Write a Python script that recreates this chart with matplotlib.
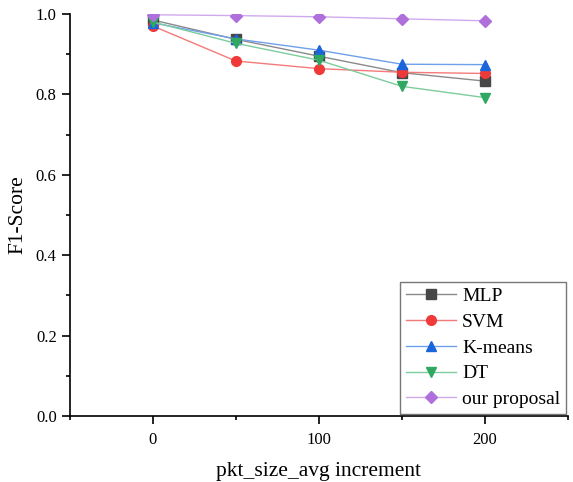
import matplotlib.pyplot as plt
from matplotlib.ticker import MultipleLocator

plt.rcParams['font.family'] = ['Liberation Serif', 'DejaVu Serif']

increments = [0, 50, 100, 150, 200]
mlp = [0.985, 0.937, 0.895, 0.854, 0.833]
svm = [0.970, 0.883, 0.864, 0.855, 0.852]
kmeans = [0.978, 0.938, 0.910, 0.875, 0.874]
dt = [0.980, 0.927, 0.885, 0.820, 0.792]
proposal = [0.998, 0.996, 0.993, 0.988, 0.983]

labels = ["MLP", "SVM", "K-means", "DT", "our proposal"]
series = [mlp, svm, kmeans, dt, proposal]
markers = ["s", "o", "^", "v", "D"]
line_colors = ["#8a8a8a", "#f47a7a", "#6fa0ea", "#7ccc9c", "#cfa9ee"]
marker_colors = ["#474747", "#f03a3a", "#1a64dc", "#2fa862", "#b070dc"]

fig = plt.figure(figsize=(5.73, 4.82), dpi=100)
ax = fig.add_axes([0.122, 0.137, 0.869, 0.834])

for ys, lab, m, lc, mc in zip(series, labels, markers, line_colors, marker_colors):
    ms = 7 if m != "D" else 6.5
    ax.plot(increments, ys, color=lc, lw=1.0, marker=m, markersize=ms,
            markerfacecolor=mc, markeredgecolor=mc, label=lab)

ax.set_xlim(-50, 250)
ax.set_ylim(0, 1.0)
ax.xaxis.set_major_locator(MultipleLocator(100))
ax.xaxis.set_minor_locator(MultipleLocator(50))
ax.yaxis.set_major_locator(MultipleLocator(0.2))
ax.yaxis.set_minor_locator(MultipleLocator(0.1))
ax.yaxis.set_major_formatter(plt.FormatStrFormatter('%.1f'))

for side in ["top", "right"]:
    ax.spines[side].set_visible(False)
for side in ["left", "bottom"]:
    ax.spines[side].set_linewidth(1.2)
ax.tick_params(which="major", direction="out", length=5.5, width=1.2, labelsize=12)
ax.tick_params(which="minor", direction="out", length=3, width=1.2)
ax.tick_params(axis="x", which="major", pad=6)
ax.tick_params(axis="y", which="major", pad=4)

ax.set_xlabel("pkt_size_avg increment", fontsize=15.5, labelpad=10)
ax.set_ylabel("F1-Score", fontsize=15.5, labelpad=6)

leg = ax.legend(loc="lower right", fontsize=14, frameon=True, fancybox=False,
                edgecolor="#555555", handlelength=2.6, handletextpad=0.3,
                borderpad=0.3, labelspacing=0.42, borderaxespad=0.1)
leg.get_frame().set_linewidth(1.0)

fig.savefig("out.png", dpi=100)
